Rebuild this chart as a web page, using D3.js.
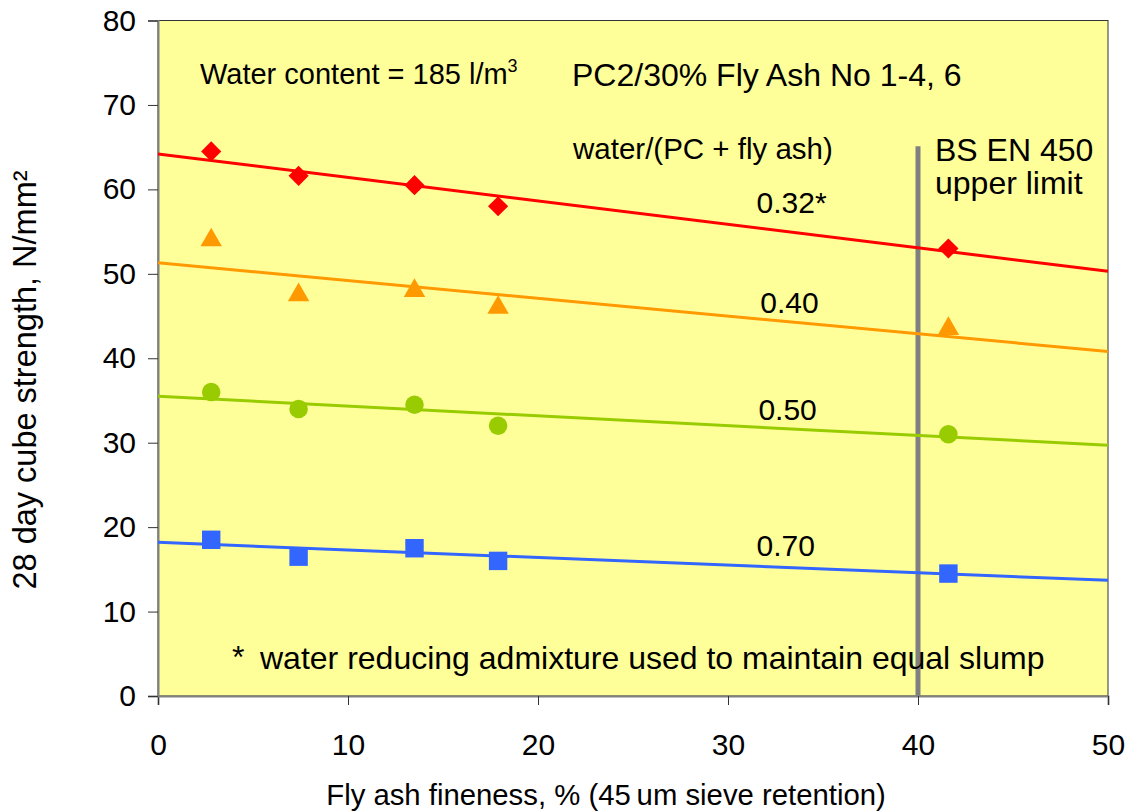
<!DOCTYPE html>
<html>
<head>
<meta charset="utf-8">
<script src="https://cdn.jsdelivr.net/npm/d3@7"></script>
<style>
  body { margin: 0; background: #fff; }
  svg { display: block; font-family: "Liberation Sans", Arial, sans-serif; }
</style>
</head>
<body>
<div id="chart"></div>
<script>
// fineness values (% retained on 45 um sieve)
const fineness = [2.8, 7.4, 13.5, 17.9, 41.6];

// 28 day strength for each water/binder ratio
const ratios = ["0.32*", "0.40", "0.50", "0.70"];
const strength032 = [64.5, 61.6, 60.5, 58.0, 53.0];
const strength040 = [54.0, 47.5, 48.0, 46.0, 43.5];
const strength050 = [36.0, 34.0, 34.5, 32.0, 31.0];
const strength070 = [18.5, 16.5, 17.5, 16.0, 14.5];

// trend line ends, read at x = 0 and x = 50
const trendX = [0, 50];
const trend032 = [64.2, 50.3];
const trend040 = [51.3, 40.8];
const trend050 = [35.5, 29.7];
const trend070 = [18.2, 13.7];

// where the ratio labels sit (data units)
const labelX = [31.5, 31.7, 31.6, 31.5];
const labelY = [57.2, 45.3, 32.7, 16.6];

const xTicks = [0, 10, 20, 30, 40, 50];
const yTicks = [0, 10, 20, 30, 40, 50, 60, 70, 80];
const limitX = 40, limitTop = 65.1;

const series = [
  { name: ratios[0], values: strength032, trend: trend032, color: "#ff0000", symbol: d3.symbolDiamond2, size: 260 },
  { name: ratios[1], values: strength040, trend: trend040, color: "#ff9900", symbol: d3.symbolTriangle, size: 200 },
  { name: ratios[2], values: strength050, trend: trend050, color: "#99cc00", symbol: d3.symbolCircle, size: 270 },
  { name: ratios[3], values: strength070, trend: trend070, color: "#3366ff", symbol: d3.symbolSquare, size: 340 }
];

const width = 1128, height = 812;
const margin = { top: 20.5, right: 20, bottom: 116, left: 158 };
const innerW = width - margin.left - margin.right;
const innerH = height - margin.top - margin.bottom;

const svg = d3.select("#chart").append("svg")
  .attr("width", width)
  .attr("height", height);

const x = d3.scaleLinear().domain([0, 50]).range([margin.left, margin.left + innerW]);
const y = d3.scaleLinear().domain([0, 80]).range([margin.top + innerH, margin.top]);

// plot background
svg.append("rect")
  .attr("x", x(0)).attr("y", y(80))
  .attr("width", x(50) - x(0)).attr("height", y(0) - y(80))
  .attr("fill", "#ffff99")
  .attr("stroke", "#333").attr("stroke-width", 1);

// axes
const xAxis = svg.append("g")
  .attr("transform", "translate(0," + y(0) + ")")
  .call(d3.axisBottom(x).tickValues(xTicks).tickSize(9).tickPadding(29).tickFormat(d3.format("d")));
const yAxis = svg.append("g")
  .attr("transform", "translate(" + x(0) + ",0)")
  .call(d3.axisLeft(y).tickValues(yTicks).tickSize(10).tickPadding(12).tickFormat(d3.format("d")));

[xAxis, yAxis].forEach(function(g) {
  g.select(".domain").attr("stroke", "#808080").attr("stroke-width", 2);
  g.selectAll(".tick line").attr("stroke", "#333");
  g.selectAll(".tick text")
    .attr("fill", "#000")
    .style("font-size", "30px")
    .style("font-family", "'Liberation Sans', Arial, sans-serif");
});

// BS EN 450 limit line
svg.append("line")
  .attr("x1", x(limitX)).attr("x2", x(limitX))
  .attr("y1", y(limitTop)).attr("y2", y(0))
  .attr("stroke", "#808080")
  .attr("stroke-width", 5);

// trend lines
const line = d3.line()
  .x(d => x(d[0]))
  .y(d => y(d[1]));

series.forEach(function(s) {
  svg.append("path")
    .datum(trendX.map((t, i) => [t, s.trend[i]]))
    .attr("d", line)
    .attr("fill", "none")
    .attr("stroke", s.color)
    .attr("stroke-width", 3);
});

// markers
series.forEach(function(s) {
  svg.append("g")
    .selectAll("path")
    .data(s.values.map((v, i) => [fineness[i], v]))
    .enter()
    .append("path")
    .attr("transform", d => "translate(" + x(d[0]) + "," + y(d[1]) + ")")
    .attr("d", d3.symbol().type(s.symbol).size(s.size))
    .attr("fill", s.color);
});

// ratio labels
series.forEach(function(s, i) {
  svg.append("text")
    .attr("x", x(labelX[i]))
    .attr("y", y(labelY[i]))
    .style("font-size", "30px")
    .text(s.name);
});

// annotations
const wc = svg.append("text")
  .attr("x", 200).attr("y", 84)
  .style("font-size", "29px")
  .text("Water content = 185 l/m");
wc.append("tspan")
  .attr("dy", -12)
  .style("font-size", "18px")
  .text("3");

svg.append("text")
  .attr("x", 572).attr("y", 86)
  .style("font-size", "32px")
  .text("PC2/30% Fly Ash No 1-4, 6");

svg.append("text")
  .attr("x", 573).attr("y", 159)
  .style("font-size", "29.5px")
  .text("water/(PC + fly ash)");

svg.append("text")
  .attr("x", 935).attr("y", 161)
  .style("font-size", "32px")
  .text("BS EN 450");
svg.append("text")
  .attr("x", 935).attr("y", 194)
  .style("font-size", "32px")
  .text("upper limit");

svg.append("text")
  .attr("x", 232).attr("y", 668)
  .style("font-size", "32px")
  .text("*");
svg.append("text")
  .attr("x", 260).attr("y", 669)
  .style("font-size", "32px")
  .text("water reducing admixture used to maintain equal slump");

// axis titles
svg.append("text")
  .attr("x", 606).attr("y", 805)
  .attr("text-anchor", "middle")
  .style("font-size", "29.3px")
  .text("Fly ash fineness, % (45\u2009um sieve retention)");

svg.append("text")
  .attr("transform", "translate(36,380) rotate(-90)")
  .attr("text-anchor", "middle")
  .style("font-size", "32.5px")
  .text("28 day cube strength, N/mm\u00b2");
</script>
</body>
</html>
